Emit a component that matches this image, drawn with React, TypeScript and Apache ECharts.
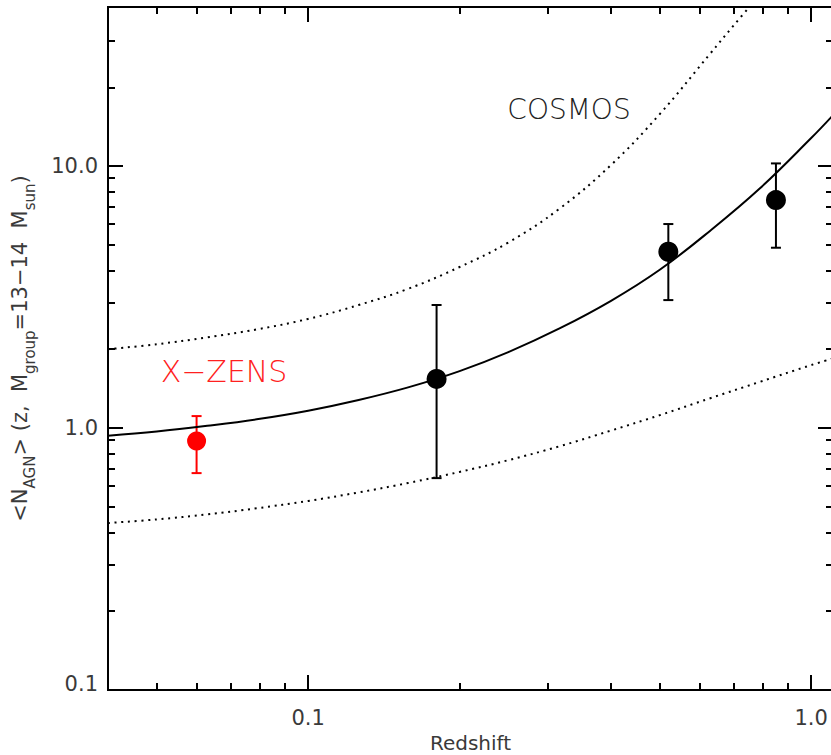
import React, { useEffect, useRef } from 'react';
import * as echarts from 'echarts';

// ---- axis ranges & ticks ----
const X_MIN = 0.04;
const X_MAX = 1.105;
const Y_MIN = 0.1;
const Y_MAX = 40.5;
const xMajorTicks = [0.1, 1.0];
const xMinorTicks = [0.05, 0.06, 0.07, 0.08, 0.09, 0.2, 0.3, 0.4, 0.5, 0.6, 0.7, 0.8, 0.9];
const yMajorTicks = [0.1, 1.0, 10.0];
const yMinorTicks = [0.2, 0.3, 0.4, 0.5, 0.6, 0.7, 0.8, 0.9, 2, 3, 4, 5, 6, 7, 8, 9, 20, 30];

// ---- solid model curve ----
const solidZ = [0.04, 0.05, 0.063, 0.079, 0.10, 0.126, 0.158, 0.20, 0.25, 0.316, 0.40, 0.50, 0.63, 0.79, 1.00, 1.10];
const solidN = [0.935, 0.97, 1.02, 1.08, 1.165, 1.28, 1.43, 1.65, 1.95, 2.40, 3.06, 4.02, 5.67, 8.21, 12.8, 15.5];

// ---- upper dotted curve ----
const upperZ = [0.04, 0.05, 0.063, 0.079, 0.10, 0.126, 0.158, 0.20, 0.25, 0.316, 0.40, 0.50, 0.63, 0.70, 0.79];
const upperN = [2.00, 2.09, 2.22, 2.38, 2.61, 2.95, 3.40, 4.12, 5.11, 6.88, 10.1, 15.8, 26.9, 34.3, 45.1];

// ---- lower dotted curve ----
const lowerZ = [0.04, 0.05, 0.063, 0.079, 0.10, 0.126, 0.158, 0.20, 0.25, 0.316, 0.40, 0.50, 0.63, 0.79, 1.00, 1.10];
const lowerN = [0.434, 0.448, 0.468, 0.494, 0.527, 0.568, 0.617, 0.680, 0.754, 0.852, 0.978, 1.12, 1.30, 1.50, 1.74, 1.84];

// ---- COSMOS points ----
const cosmosZ = [0.180, 0.520, 0.851];
const cosmosN = [1.54, 4.71, 7.42];
const cosmosLo = [0.644, 3.08, 4.88];
const cosmosHi = [2.95, 6.01, 10.24];

// ---- X-ZENS point ----
const zensZ = [0.060];
const zensN = [0.892];
const zensLo = [0.673];
const zensHi = [1.111];

const FONT = 'DejaVu Sans';
const TEXT_COLOR = '#3a3a3a';
const fmtX = (v: number) => Number(v).toFixed(1);
const fmtY = (v: number) => (v < 0.5 ? `{lo|${Number(v).toFixed(1)}}` : Number(v).toFixed(1));

function makeAxis(kind: 'x' | 'y', position: string, ticks: number[], len: number, labels?: number[]) {
  return {
    type: 'log',
    logBase: 10,
    position,
    min: kind === 'x' ? X_MIN : Y_MIN,
    max: kind === 'x' ? X_MAX : Y_MAX,
    axisLine: { show: true, onZero: false, lineStyle: { color: '#000', width: 2 } },
    axisTick: {
      show: true,
      inside: true,
      length: len,
      customValues: ticks,
      lineStyle: { color: '#000', width: 2 },
    },
    axisLabel: labels
      ? {
          show: true,
          customValues: labels,
          formatter: kind === 'x' ? fmtX : fmtY,
          fontFamily: FONT,
          fontSize: 21,
          color: TEXT_COLOR,
          margin: kind === 'x' ? 17 : 10,
          rich: {
            lo: { fontFamily: FONT, fontSize: 21, color: TEXT_COLOR, padding: [0, 0, 12, 0] },
          },
        }
      : { show: false },
    splitLine: { show: false },
    minorTick: { show: false },
    minorSplitLine: { show: false },
  };
}

function errorBars(z: number[], lo: number[], hi: number[], color: string, width: number) {
  return {
    type: 'custom',
    xAxisIndex: 0,
    yAxisIndex: 0,
    z: 3,
    data: z.map((v, i) => [v, lo[i], hi[i]]),
    encode: { x: 0, y: [1, 2] },
    renderItem: (_params: any, api: any) => {
      const x = api.value(0);
      const pLo = api.coord([x, api.value(1)]);
      const pHi = api.coord([x, api.value(2)]);
      const cap = 5;
      const style = { stroke: color, lineWidth: width };
      return {
        type: 'group',
        children: [
          { type: 'line', shape: { x1: pLo[0], y1: pLo[1], x2: pHi[0], y2: pHi[1] }, style },
          { type: 'line', shape: { x1: pLo[0] - cap, y1: pLo[1], x2: pLo[0] + cap, y2: pLo[1] }, style },
          { type: 'line', shape: { x1: pHi[0] - cap, y1: pHi[1], x2: pHi[0] + cap, y2: pHi[1] }, style },
        ],
      };
    },
  };
}

export default function App() {
  const ref = useRef<HTMLDivElement>(null);
  useEffect(() => {
    document.body.style.margin = '0';
    const chart = echarts.init(ref.current!, null, { renderer: 'svg' });
    const xBottom = {
      ...makeAxis('x', 'bottom', xMajorTicks, 15, xMajorTicks),
      name: 'Redshift',
      nameLocation: 'middle',
      nameGap: 42,
      nameTextStyle: { fontFamily: FONT, fontSize: 20, color: TEXT_COLOR },
    };
    const yLeft = {
      ...makeAxis('y', 'left', yMajorTicks, 15, yMajorTicks),
      name: '{m|<N}{s|AGN}{m|> (z,  M}{s|group}{m|=13−14  M}{s|sun}{m|)}',
      nameLocation: 'middle',
      nameGap: 71,
      nameTextStyle: {
        fontFamily: FONT,
        color: TEXT_COLOR,
        rich: {
          m: { fontFamily: FONT, fontSize: 21, color: TEXT_COLOR, verticalAlign: 'middle', lineHeight: 34 },
          s: { fontFamily: FONT, fontSize: 15, color: TEXT_COLOR, verticalAlign: 'bottom', lineHeight: 15 },
        },
      },
    };
    const option: any = {
      animation: false,
      backgroundColor: '#fff',
      grid: { left: 108, top: 7, width: 725, height: 683, containLabel: false, outerBoundsMode: 'none' },
      xAxis: [
        xBottom,
        makeAxis('x', 'bottom', xMinorTicks, 7),
        makeAxis('x', 'top', xMajorTicks, 15),
        makeAxis('x', 'top', xMinorTicks, 7),
      ],
      yAxis: [
        yLeft,
        makeAxis('y', 'left', yMinorTicks, 7),
        makeAxis('y', 'right', yMajorTicks, 15),
        makeAxis('y', 'right', yMinorTicks, 7),
      ],
      graphic: [
        {
          type: 'text',
          x: 569,
          y: 109,
          style: {
            text: 'COSMOS',
            fontFamily: FONT,
            fontSize: 28,
            fontWeight: 200,
            fill: '#222',
            align: 'center',
            verticalAlign: 'middle',
          },
        },
        {
          type: 'text',
          x: 224,
          y: 371,
          style: {
            text: 'X−ZENS',
            fontFamily: FONT,
            fontSize: 30,
            fontWeight: 200,
            fill: '#ff2020',
            align: 'center',
            verticalAlign: 'middle',
          },
        },
      ],
      series: [
        {
          type: 'line',
          name: 'model',
          xAxisIndex: 0,
          yAxisIndex: 0,
          data: solidZ.map((z, i) => [z, solidN[i]]),
          smooth: 0.4,
          showSymbol: false,
          symbol: 'none',
          clip: true,
          lineStyle: { color: '#000', width: 2 },
        },
        {
          type: 'line',
          name: 'upper',
          xAxisIndex: 0,
          yAxisIndex: 0,
          data: upperZ.map((z, i) => [z, upperN[i]]),
          smooth: 0.4,
          showSymbol: false,
          symbol: 'none',
          clip: true,
          lineStyle: { color: '#000', width: 2, type: [2, 4.7] },
        },
        {
          type: 'line',
          name: 'lower',
          xAxisIndex: 0,
          yAxisIndex: 0,
          data: lowerZ.map((z, i) => [z, lowerN[i]]),
          smooth: 0.4,
          showSymbol: false,
          symbol: 'none',
          clip: true,
          lineStyle: { color: '#000', width: 2, type: [2, 4.7] },
        },
        errorBars(cosmosZ, cosmosLo, cosmosHi, '#000', 2),
        errorBars(zensZ, zensLo, zensHi, '#ff0000', 2),
        {
          type: 'scatter',
          name: 'COSMOS',
          xAxisIndex: 0,
          yAxisIndex: 0,
          z: 4,
          symbol: 'circle',
          symbolSize: 20,
          itemStyle: { color: '#000', opacity: 1 },
          data: cosmosZ.map((z, i) => [z, cosmosN[i]]),
        },
        {
          type: 'scatter',
          name: 'X-ZENS',
          xAxisIndex: 0,
          yAxisIndex: 0,
          z: 4,
          symbol: 'circle',
          symbolSize: 19,
          itemStyle: { color: '#ff0000', opacity: 1 },
          data: zensZ.map((z, i) => [z, zensN[i]]),
        },
      ],
    };
    chart.setOption(option);
    return () => chart.dispose();
  }, []);
  return <div ref={ref} style={{ width: 831, height: 755 }} />;
}
